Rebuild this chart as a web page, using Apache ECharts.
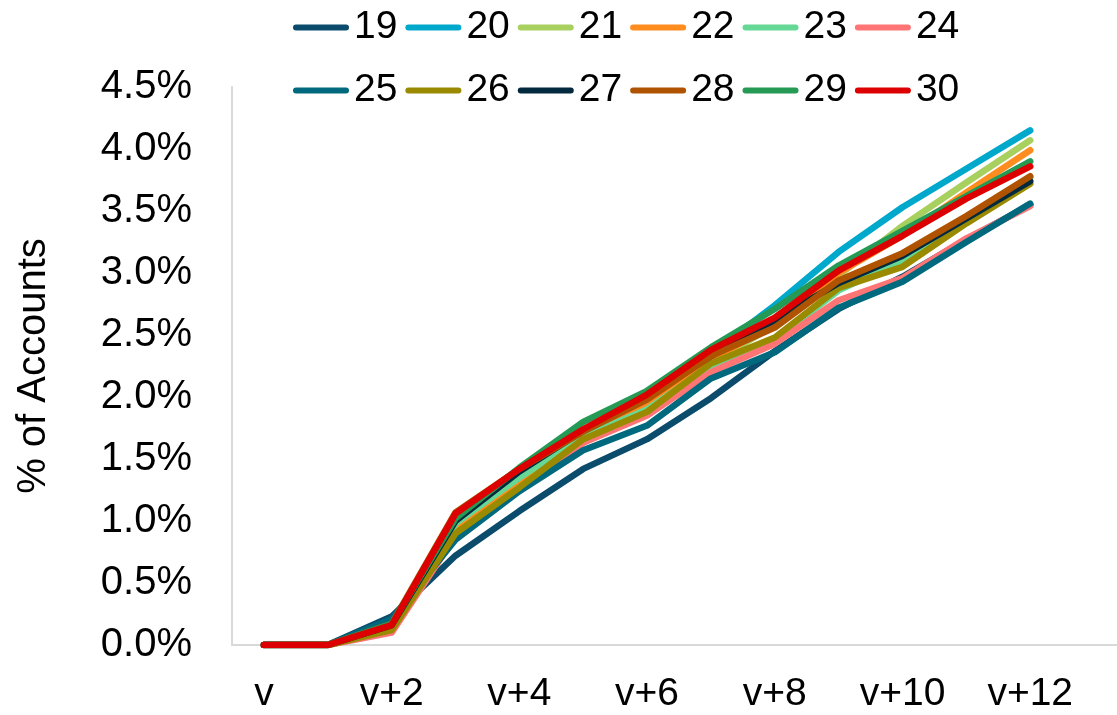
<!DOCTYPE html>
<html>
<head>
<meta charset="utf-8">
<script src="https://cdn.jsdelivr.net/npm/echarts@6/dist/echarts.min.js"></script>
<style>
  html, body { margin: 0; padding: 0; background: #fff; }
  #chart { width: 1117px; height: 715px; }
</style>
</head>
<body>
<div id="chart"></div>
<script>
// categories (last one is an empty slot, the axis runs past v+12)
const categories = ["v", "v+1", "v+2", "v+3", "v+4", "v+5", "v+6", "v+7", "v+8", "v+9", "v+10", "v+11", "v+12", "v+13"];
const yTicks = { min: 0, max: 4.5, step: 0.5 };

// % of accounts
const s19 = [0, 0, 0.23, 0.72, 1.08, 1.42, 1.66, 1.99, 2.37, 2.71, 2.97, 3.27, 3.55];
const s20 = [0, 0, 0.15, 0.95, 1.38, 1.70, 1.99, 2.35, 2.74, 3.17, 3.53, 3.84, 4.15];
const s21 = [0, 0, 0.14, 0.93, 1.33, 1.66, 1.93, 2.27, 2.58, 2.98, 3.38, 3.73, 4.07];
const s22 = [0, 0, 0.14, 0.95, 1.33, 1.71, 1.93, 2.30, 2.59, 3.00, 3.30, 3.65, 3.99];
const s23 = [0, 0, 0.13, 0.98, 1.35, 1.68, 1.90, 2.25, 2.46, 2.86, 3.10, 3.45, 3.77];
const s24 = [0, 0, 0.10, 0.88, 1.25, 1.63, 1.85, 2.20, 2.43, 2.78, 2.96, 3.28, 3.54];
const s25 = [0, 0, 0.21, 0.85, 1.24, 1.57, 1.77, 2.15, 2.36, 2.72, 2.93, 3.25, 3.56];
const s26 = [0, 0, 0.12, 0.90, 1.27, 1.66, 1.88, 2.27, 2.48, 2.88, 3.05, 3.40, 3.72];
const s27 = [0, 0, 0.16, 1.00, 1.40, 1.73, 2.00, 2.33, 2.62, 2.92, 3.14, 3.44, 3.74];
const s28 = [0, 0, 0.17, 1.07, 1.42, 1.72, 1.98, 2.33, 2.56, 2.94, 3.16, 3.46, 3.78];
const s29 = [0, 0, 0.17, 1.02, 1.43, 1.80, 2.05, 2.40, 2.71, 3.06, 3.34, 3.62, 3.90];
const s30 = [0, 0, 0.16, 1.06, 1.42, 1.74, 2.02, 2.38, 2.64, 3.02, 3.30, 3.60, 3.86];

const names = ["19", "20", "21", "22", "23", "24", "25", "26", "27", "28", "29", "30"];
const values = [s19, s20, s21, s22, s23, s24, s25, s26, s27, s28, s29, s30];
const colors = ["#0B4C6C", "#00A8CC", "#A8D05E", "#FF8C1F", "#66D896", "#FF7575",
                "#00697E", "#998A00", "#02293E", "#B05300", "#259A55", "#DD0000"];

const FONT = "'Liberation Sans', Arial, sans-serif";
const capsule = "path://M3,0 L53,0 A3,3 0 0 1 53,6 L3,6 A3,3 0 0 1 3,0 Z";

function legendRow(top, items) {
  return {
    top: top,
    left: 293,
    padding: 0,
    orient: "horizontal",
    itemWidth: 56,
    itemHeight: 6,
    itemGap: 8,
    icon: capsule,
    data: items,
    textStyle: { color: "#000", fontSize: 39, fontFamily: FONT },
  };
}

const option = {
  animation: false,
  backgroundColor: "#fff",
  legend: [legendRow(8, names.slice(0, 6)), legendRow(71, names.slice(6))],
  grid: { left: 232, right: -9, top: 87, bottom: 70, outerBoundsMode: "none", containLabel: false },
  xAxis: {
    type: "category",
    data: categories,
    boundaryGap: true,
    axisLine: { show: true, lineStyle: { color: "#D9D9D9", width: 2 } },
    axisTick: { show: false },
    axisLabel: { interval: 1, margin: 30, color: "#000", fontSize: 39, fontFamily: FONT },
    splitLine: { show: false },
  },
  yAxis: {
    type: "value",
    min: yTicks.min,
    max: yTicks.max,
    interval: yTicks.step,
    name: "% of Accounts",
    nameLocation: "middle",
    nameGap: 178,
    nameTextStyle: { color: "#000", fontSize: 40, fontFamily: FONT },
    axisLine: { show: true, lineStyle: { color: "#D9D9D9", width: 2 } },
    axisTick: { show: false },
    splitLine: { show: false },
    axisLabel: {
      margin: 40,
      color: "#000",
      fontSize: 40,
      fontFamily: FONT,
      formatter: (v) => v.toFixed(1) + "%",
    },
  },
  series: names.map((n, i) => ({
    name: n,
    type: "line",
    data: values[i],
    symbol: "none",
    color: colors[i],
    lineStyle: { color: colors[i], width: 6.5, cap: "round", join: "round" },
  })),
};

const chart = echarts.init(document.getElementById("chart"));
chart.setOption(option);
</script>
</body>
</html>
